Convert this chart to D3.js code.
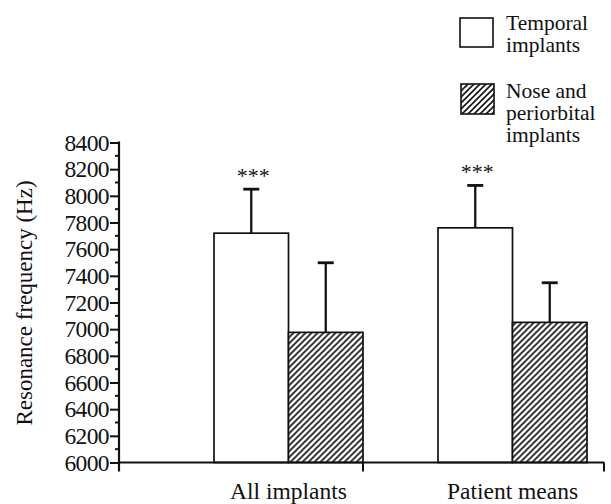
<!DOCTYPE html>
<html>
<head>
<meta charset="utf-8">
<script src="https://cdn.jsdelivr.net/npm/d3@7"></script>
<style>
  html, body { margin: 0; padding: 0; background: #fff; }
  svg { display: block; }
</style>
</head>
<body>
<svg id="chart" width="611" height="504" font-family="Liberation Serif, Times New Roman, serif"></svg>
<script>
// Resonance frequency by implant site
const groups = ["All implants", "Patient means"];
const seriesKeys = ["temporal", "nose"];
const temporalMeans = [7720, 7760];
const temporalErr = [8050, 8078];   // upper end of the error bar
const noseMeans = [6976, 7051];
const noseErr = [7498, 7348];
const significance = ["***", "***"];
const yTicks = [6000, 6200, 6400, 6600, 6800, 7000, 7200, 7400, 7600, 7800, 8000, 8200, 8400];
const legendLines = [["Temporal", "implants"], ["Nose and", "periorbital", "implants"]];

const data = groups.map((g, i) => ({
  group: g,
  values: [
    { key: "temporal", mean: temporalMeans[i], top: temporalErr[i] },
    { key: "nose", mean: noseMeans[i], top: noseErr[i] }
  ],
  sig: significance[i]
}));

const svg = d3.select("#chart");
const ink = "#111";

// hatch pattern for the nose / periorbital series
const defs = svg.append("defs");
const pat = defs.append("pattern")
  .attr("id", "hatch")
  .attr("patternUnits", "userSpaceOnUse")
  .attr("width", 6).attr("height", 6);
pat.append("rect").attr("width", 6).attr("height", 6).attr("fill", "#fff");
pat.append("path")
  .attr("d", "M-1,1 L1,-1 M0,6 L6,0 M5,7 L7,5")
  .attr("stroke", ink).attr("stroke-width", 1.6);

const fills = { temporal: "#fff", nose: "url(#hatch)" };

const axisX = 119, axisY = 462.5, axisEnd = 604;
const y = d3.scaleLinear().domain([6000, 8400]).range([axisY, 142.5]);
const x0 = d3.scaleBand().domain(groups).range([176.5, 624.5]).padding(0);
const x1 = d3.scaleBand().domain(seriesKeys).range([37.5, 186.5]).padding(0);

// bars
const g = svg.append("g");
const grp = g.selectAll("g.grp").data(data).join("g")
  .attr("class", "grp")
  .attr("transform", d => `translate(${x0(d.group)},0)`);

grp.selectAll("rect.bar").data(d => d.values).join("rect")
  .attr("class", "bar")
  .attr("x", d => x1(d.key))
  .attr("y", d => y(d.mean))
  .attr("width", x1.bandwidth())
  .attr("height", d => axisY - y(d.mean))
  .attr("fill", d => fills[d.key])
  .attr("stroke", ink)
  .attr("stroke-width", 1.7);

// error bars (upper only)
grp.selectAll("line.err").data(d => d.values).join("line")
  .attr("class", "err")
  .attr("x1", d => x1(d.key) + x1.bandwidth() / 2)
  .attr("x2", d => x1(d.key) + x1.bandwidth() / 2)
  .attr("y1", d => y(d.mean))
  .attr("y2", d => y(d.top))
  .attr("stroke", ink).attr("stroke-width", 2.3);

grp.selectAll("line.cap").data(d => d.values).join("line")
  .attr("class", "cap")
  .attr("x1", d => x1(d.key) + x1.bandwidth() / 2 - 8)
  .attr("x2", d => x1(d.key) + x1.bandwidth() / 2 + 8)
  .attr("y1", d => y(d.top))
  .attr("y2", d => y(d.top))
  .attr("stroke", ink).attr("stroke-width", 2.8);

// significance stars above the temporal bars
grp.append("text")
  .attr("x", d => x1("temporal") + x1.bandwidth() / 2 + 2)
  .attr("y", d => y(d.values[0].top) - 6)
  .attr("text-anchor", "middle")
  .attr("font-size", 22)
  .attr("fill", ink)
  .text(d => d.sig);

// y axis
const yAxis = d3.axisLeft(y).tickValues(yTicks).tickSize(9).tickSizeOuter(0)
  .tickFormat(d3.format("d"));
const ya = svg.append("g").attr("transform", `translate(${axisX},0)`).call(yAxis)
  .attr("font-family", null).attr("font-size", null);
ya.select(".domain").remove();
ya.selectAll(".tick line").attr("stroke", ink).attr("stroke-width", 2);
ya.selectAll(".tick text")
  .attr("x", -10)
  .attr("font-size", 23.5)
  .attr("letter-spacing", -0.6)
  .attr("fill", ink);

// minor ticks every 100 Hz
const minor = d3.range(6100, 8400, 200);
svg.append("g").selectAll("line").data(minor).join("line")
  .attr("x1", axisX - 4).attr("x2", axisX)
  .attr("y1", d => y(d)).attr("y2", d => y(d))
  .attr("stroke", ink).attr("stroke-width", 2);

svg.append("line")
  .attr("x1", axisX).attr("x2", axisX)
  .attr("y1", y(8400) - 1).attr("y2", axisY + 9)
  .attr("stroke", ink).attr("stroke-width", 2.2);

// x axis baseline with group separators
svg.append("line")
  .attr("x1", axisX).attr("x2", axisEnd)
  .attr("y1", axisY).attr("y2", axisY)
  .attr("stroke", ink).attr("stroke-width", 2.2);
const sepX = [x0(groups[0]) + x1.range()[1], axisEnd];
svg.append("g").selectAll("line").data(sepX).join("line")
  .attr("x1", d => d).attr("x2", d => d)
  .attr("y1", axisY).attr("y2", axisY + 9)
  .attr("stroke", ink).attr("stroke-width", 2);

// group labels
svg.append("g").selectAll("text").data(groups).join("text")
  .attr("x", d => x0(d) + x0.bandwidth() / 2)
  .attr("y", 499)
  .attr("text-anchor", "middle")
  .attr("font-size", 23.5)
  .attr("fill", ink)
  .text(d => d);

// y axis title
svg.append("text")
  .attr("transform", `translate(32,303) rotate(-90)`)
  .attr("text-anchor", "middle")
  .attr("font-size", 23)
  .attr("fill", ink)
  .text("Resonance frequency (Hz)");

// legend
const legend = svg.append("g");
const legendBoxes = [
  { key: "temporal", x: 460, y: 18, w: 33, h: 29, textY: 30 },
  { key: "nose", x: 461, y: 84, w: 33, h: 30, textY: 98 }
];
legendBoxes.forEach((b, i) => {
  legend.append("rect")
    .attr("x", b.x).attr("y", b.y).attr("width", b.w).attr("height", b.h)
    .attr("fill", fills[b.key]).attr("stroke", ink).attr("stroke-width", 1.6);
  legend.selectAll(null).data(legendLines[i]).join("text")
    .attr("x", 506)
    .attr("y", (d, j) => b.textY + j * 22)
    .attr("font-size", 21.5)
    .attr("fill", ink)
    .text(d => d);
});
</script>
</body>
</html>
